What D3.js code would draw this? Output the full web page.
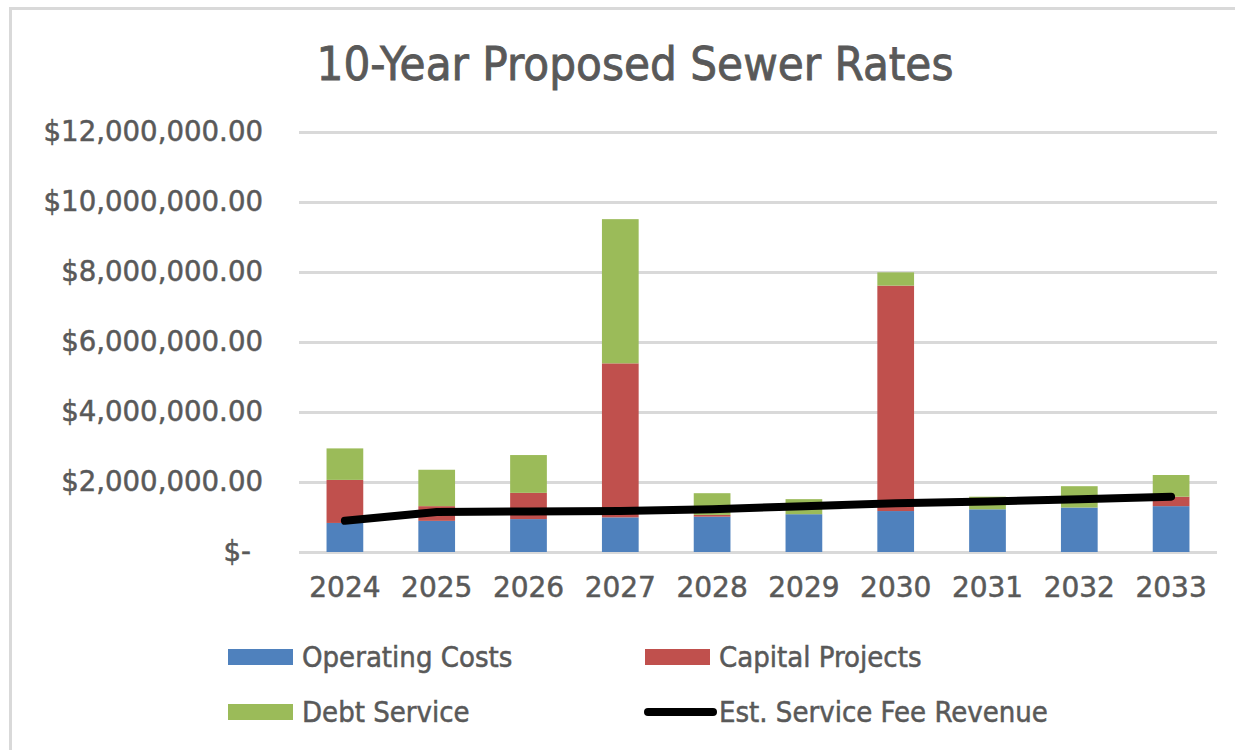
<!DOCTYPE html>
<html>
<head>
<meta charset="utf-8">
<script src="https://cdn.jsdelivr.net/npm/d3@7"></script>
<style>
  body { margin: 0; background: #fff; }
  svg { display: block; }
</style>
</head>
<body>
<div id="app"></div>
<script>
const years = ['2024', '2025', '2026', '2027', '2028', '2029', '2030', '2031', '2032', '2033'];
const operatingCosts = [830000, 890000, 940000, 990000, 1010000, 1080000, 1170000, 1220000, 1270000, 1310000];
const capitalProjects = [1230000, 420000, 750000, 4400000, 50000, 0, 6440000, 0, 0, 270000];
const debtService = [900000, 1040000, 1080000, 4120000, 620000, 430000, 380000, 360000, 610000, 620000];
const feeRevenue = [890000, 1140000, 1160000, 1170000, 1220000, 1310000, 1390000, 1440000, 1510000, 1580000];
const yTicks = [0, 2000000, 4000000, 6000000, 8000000, 10000000, 12000000];

const seriesNames = ['Operating Costs', 'Capital Projects', 'Debt Service'];
const colors = ['#4f81bd', '#c0504d', '#9bbb59'];
const textColor = '#595959';

const width = 1235;
const height = 750;
const plot = { left: 299, right: 1217, top: 132, bottom: 552 };

const svg = d3.select('#app').append('svg')
  .attr('width', width)
  .attr('height', height);

// chart frame (only top and left edges are visible in the reference)
svg.append('path')
  .attr('d', `M10.5,${height} V8.5 H${width}`)
  .attr('fill', 'none')
  .attr('stroke', '#d9d9d9')
  .attr('stroke-width', 3);

svg.append('text')
  .attr('x', 635)
  .attr('y', 80)
  .attr('text-anchor', 'middle')
  .attr('font-family', '"DejaVu Sans Condensed", "DejaVu Sans", sans-serif')
  .attr('font-size', 47)
  .attr('fill', textColor)
  .attr('stroke', textColor)
  .attr('stroke-width', 0.8)
  .text('10-Year Proposed Sewer Rates');

const x = d3.scaleBand()
  .domain(years)
  .range([plot.left, plot.right])
  .paddingInner(0.6)
  .paddingOuter(0.3);

const y = d3.scaleLinear()
  .domain([0, 12000000])
  .range([plot.bottom, plot.top]);

const money = d3.format('$,.2f');

const yAxis = svg.append('g')
  .attr('transform', `translate(${plot.left},0)`)
  .call(
    d3.axisLeft(y)
      .tickValues(yTicks)
      .tickSizeInner(-(plot.right - plot.left))
      .tickSizeOuter(0)
      .tickPadding(36)
      .tickFormat(d => d === 0 ? '$-' : money(d))
  );

yAxis.select('.domain').remove();
yAxis.selectAll('line')
  .attr('stroke', '#d9d9d9')
  .attr('stroke-width', 3);
yAxis.selectAll('text')
  .attr('font-family', '"DejaVu Sans", sans-serif')
  .attr('font-size', 27.6)
  .attr('fill', textColor)
  .attr('stroke', textColor)
  .attr('stroke-width', 0.5)
  .attr('x', d => d === 0 ? -48 : -36);

const stack = d3.stack().keys([0, 1, 2])
  .value((i, k) => [operatingCosts, capitalProjects, debtService][k][i]);
const stacked = stack(d3.range(years.length));

svg.append('g')
  .selectAll('g')
  .data(stacked)
  .join('g')
  .attr('fill', (_, k) => colors[k])
  .selectAll('rect')
  .data(d => d)
  .join('rect')
  .attr('x', d => x(years[d.data]))
  .attr('width', x.bandwidth())
  .attr('y', d => y(d[1]))
  .attr('height', d => y(d[0]) - y(d[1]));

const xAxis = svg.append('g')
  .attr('transform', `translate(0,${plot.bottom})`)
  .call(d3.axisBottom(x).tickSize(0).tickPadding(25));

xAxis.select('.domain').remove();
xAxis.selectAll('text')
  .attr('font-family', '"DejaVu Sans", sans-serif')
  .attr('font-size', 28)
  .attr('fill', textColor)
  .attr('stroke', textColor)
  .attr('stroke-width', 0.5);

const line = d3.line()
  .x((_, i) => x(years[i]) + x.bandwidth() / 2)
  .y(d => y(d));

svg.append('path')
  .datum(feeRevenue)
  .attr('d', line)
  .attr('fill', 'none')
  .attr('stroke', '#000')
  .attr('stroke-width', 8)
  .attr('stroke-linecap', 'round')
  .attr('stroke-linejoin', 'round');

// legend
const legendItems = [
  { name: seriesNames[0], color: colors[0], x: 228, y: 657, type: 'rect' },
  { name: seriesNames[1], color: colors[1], x: 645, y: 657, type: 'rect' },
  { name: seriesNames[2], color: colors[2], x: 228, y: 712, type: 'rect' },
  { name: 'Est. Service Fee Revenue', color: '#000', x: 645, y: 712, type: 'line' }
];

const legend = svg.append('g')
  .selectAll('g')
  .data(legendItems)
  .join('g')
  .attr('transform', d => `translate(${d.x},${d.y})`);

legend.filter(d => d.type === 'rect')
  .append('rect')
  .attr('x', 0)
  .attr('y', -8)
  .attr('width', 65)
  .attr('height', 16)
  .attr('fill', d => d.color);

legend.filter(d => d.type === 'line')
  .append('line')
  .attr('x1', 3)
  .attr('x2', 68)
  .attr('stroke', '#000')
  .attr('stroke-width', 8)
  .attr('stroke-linecap', 'round');

legend.append('text')
  .attr('x', 74)
  .attr('dy', '0.36em')
  .attr('font-family', '"DejaVu Sans Condensed", "DejaVu Sans", sans-serif')
  .attr('font-size', 29)
  .attr('fill', textColor)
  .attr('stroke', textColor)
  .attr('stroke-width', 0.5)
  .text(d => d.name);
</script>
</body>
</html>
